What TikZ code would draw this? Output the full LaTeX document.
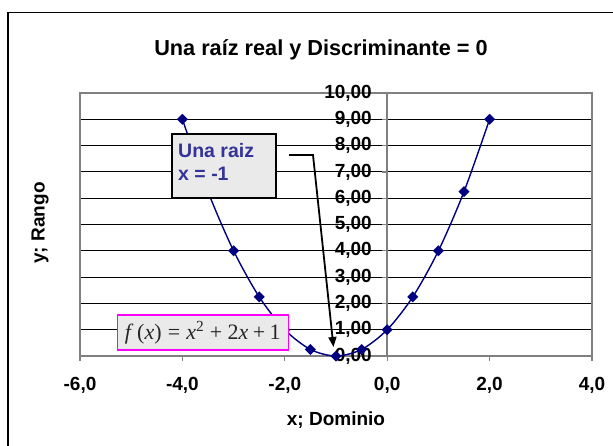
\documentclass[tikz,border=0pt]{standalone}
\usepackage{fontspec}
\setmainfont{Liberation Sans}
\newfontfamily\formfont{Liberation Serif}
\usetikzlibrary{arrows.meta}
\definecolor{navyline}{RGB}{0,0,128}
\definecolor{calltext}{RGB}{51,51,153}
\definecolor{boxgray}{RGB}{234,234,234}
\definecolor{axisgray}{RGB}{128,128,128}
\definecolor{pinkline}{RGB}{255,0,255}
\tikzset{
  titletext/.style={font=\fontsize{21.7}{26}\selectfont\bfseries, inner sep=0pt},
  axistitle/.style={font=\fontsize{19}{22}\selectfont\bfseries, inner sep=0pt},
  ticklabel/.style={font=\fontsize{19}{22}\selectfont\bfseries, inner sep=0pt},
  gridline/.style={black, line width=1pt},
  axisline/.style={axisgray, line width=1.5pt},
  tickmark/.style={axisgray, line width=1.2pt},
  seriesline/.style={navyline, line width=1.4pt},
  calloutbox/.style={draw=black, fill=boxgray, line width=1.8pt, minimum width=104pt, minimum height=64pt, inner sep=0pt},
  callouttext/.style={text=calltext, font=\fontsize{19.5}{23}\selectfont\bfseries, align=left, inner sep=0pt},
  formbox/.style={draw=pinkline, fill=boxgray, line width=1.6pt, minimum width=171pt, minimum height=35pt, inner sep=0pt, text=black!85, font=\formfont\fontsize{22}{24}\selectfont},
  calloutarrow/.style={black, line width=1.8pt, line join=miter, -{Triangle[length=10pt,width=8pt]}}
}
\newcommand{\mkdiamond}[2]{\fill[navyline] (#1,#2) ++(0pt,5.5pt) -- ++(5.5pt,-5.5pt) -- ++(-5.5pt,-5.5pt) -- ++(-5.5pt,5.5pt) -- cycle;}
\begin{document}
\begin{tikzpicture}[x=1pt,y=-1pt]
\useasboundingbox (0,0) rectangle (613,445);
\fill[white] (0,0) rectangle (613,445);
\begin{scope}
\clip (0,0) rectangle (613,445);
\draw[black, line width=1.6pt] (8,460) -- (8,12.5) -- (630,12.5);
\end{scope}
\node[titletext, anchor=base] (title) at (321,55.5) {Una raíz real y Discriminante = 0};
\node[axistitle, rotate=90] (ytitle) at (40,223) {y; Rango};
\node[axistitle, anchor=base] (xtitle) at (336,425) {x; Dominio};
\begin{scope}[xshift=387.2pt, yshift=-356pt, x=51.2pt, y=26.3pt]
  \foreach \v in {1,...,9} \draw[gridline] (-6,\v) -- (4,\v);
  \draw[axisline] (-6,0) rectangle (4,10);
  \draw[axisline] (0,0) -- (0,10);
  \foreach \v in {0,...,10} \draw[tickmark] (0,\v) -- ++(-5pt,0pt);
  \foreach \u in {-6,-4,...,4} \draw[tickmark] (\u,0) -- ++(0pt,-5pt);
  \foreach \v in {0,...,10} \node[ticklabel, anchor=east] (yl\v) at ([xshift=-15.2pt]0,\v) {\v,00};
  \foreach \u [count=\i] in {-6,-4,...,4} \node[ticklabel, anchor=base] (xl\i) at ([yshift=-34pt]\u,0) {\u,0};
  \draw[seriesline] plot[smooth, tension=0.5] coordinates {(-4,9) (-3.5,6.25) (-3,4) (-2.5,2.25) (-2,1) (-1.5,0.25) (-1,0) (-0.5,0.25) (0,1) (0.5,2.25) (1,4) (1.5,6.25) (2,9)};
  \foreach \u/\v in {-4/9,-3.5/6.25,-3/4,-2.5/2.25,-2/1,-1.5/0.25,-1/0,-0.5/0.25,0/1,0.5/2.25,1/4,1.5/6.25,2/9} {\mkdiamond{\u}{\v}}
\end{scope}
\node[calloutbox] (callout) at (223.8,166) {};
\node[callouttext, anchor=west] (callouttxt) at (178,161.5) {Una raiz\\x = -1};
\node[formbox] (formula) at (202.8,332.5) {\textit{f}\,(\textit{x})\hspace{0.28em}=\hspace{0.28em}\textit{x}\textsuperscript{2}\hspace{0.25em}+\hspace{0.25em}2\textit{x}\hspace{0.2em}+\hspace{0.2em}1};
\coordinate (cstart) at (289,155);
\coordinate (cbend) at (313,155);
\coordinate (ctip) at (333.5,347);
\draw[calloutarrow] (cstart) -- (cbend) -- (ctip);
\end{tikzpicture}
\end{document}
